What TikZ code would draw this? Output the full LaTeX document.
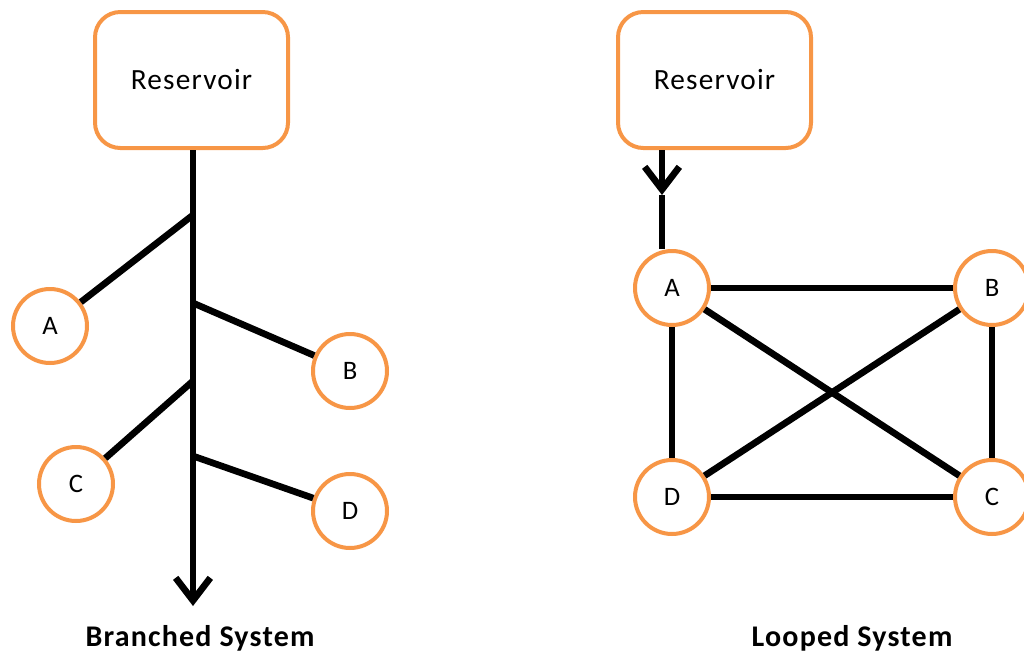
\documentclass[tikz,border=0pt]{standalone}
\usepackage{fontspec}
\setmainfont{Carlito}
\newfontfamily\widefont[LetterSpace=4]{Carlito}
\usetikzlibrary{arrows.meta,positioning}
\usepackage{xcolor}
\definecolor{pipeorange}{HTML}{F79646}

\begin{document}
\begin{tikzpicture}[
            x=0.75pt, y=-0.75pt,
            line width=5pt,
            >={Straight Barb[length=17pt,width=26pt]},
            tank/.style={draw=pipeorange, line width=3pt, rounded corners=19pt,
                minimum width=144.75pt, minimum height=102pt,
                font=\widefont\fontsize{22}{26}\selectfont},
            junction/.style={circle, draw=pipeorange, line width=3pt, fill=white,
                minimum size=55.5pt, inner sep=0pt,
                font=\fontsize{20}{24}\selectfont},
            caption/.style={font=\widefont\bfseries\fontsize{22.5}{26}\selectfont}
        ]
        \useasboundingbox (0,0) rectangle (1024,657);
        % branched system
        \node[tank] (resL) at (191.5,80) {Reservoir};
        \node[junction] (a1) at (50,326) {A};
        \node[junction] (b1) at (350,371) {B};
        \node[junction] (c1) at (76,484) {C};
        \node[junction] (d1) at (350,511) {D};
        \coordinate (jA) at (193,215);
        \coordinate (jB) at (193,303);
        \coordinate (jC) at (193,381);
        \coordinate (jD) at (193,456);
        \coordinate (endL) at (193,606);
        \draw[->] (resL.south -| endL) -- (endL);
        \path[draw]
            (jA) edge (a1)
            (jB) edge (b1)
            (jC) edge (c1)
            (jD) edge (d1);
        \node[caption] (capL) at (200,638) {Branched System};
        % looped system
        \node[tank] (resR) at (714.5,80) {Reservoir};
        \node[junction] (a2) at (672,288) {A};
        \node[junction] (b2) at (992,288) {B};
        \node[junction] (c2) at (992,497) {C};
        \node[junction] (d2) at (672,497) {D};
        \coordinate (flow) at (662,195);
        \draw[->] (resR.south -| flow) -- (flow);
        \draw (flow) -- (flow |- a2.north);
        \path[draw]
            (a2) edge (b2)
            (a2) edge (d2)
            (a2) edge (c2)
            (b2) edge (d2)
            (b2) edge (c2)
            (d2) edge (c2);
        \node[caption] (capR) at (852,638) {Looped System};
        \end{tikzpicture}
\end{document}
